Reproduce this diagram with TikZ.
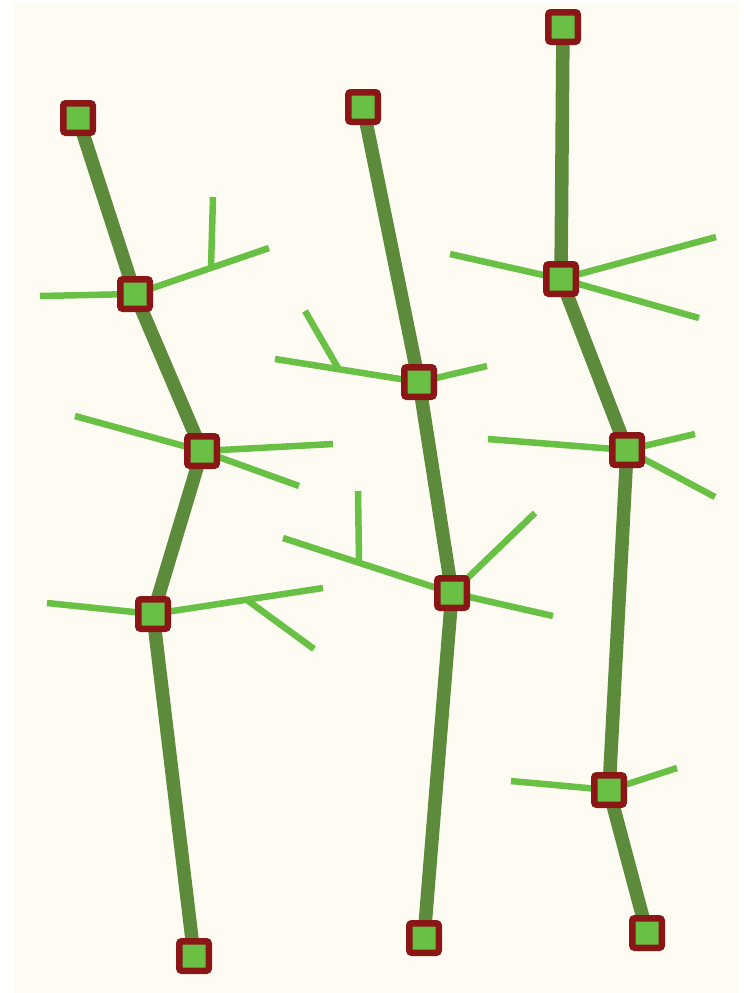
\documentclass[tikz,border=0pt]{standalone}
\definecolor{bgcream}{HTML}{FEFBF2}
\definecolor{nodered}{HTML}{8A1616}
\definecolor{nodegreen}{HTML}{6ABF45}
\definecolor{trunkgreen}{HTML}{5B8B3B}
\definecolor{twiggreen}{HTML}{68C045}
\tikzset{
  knot/.style={draw=nodered, fill=nodegreen, line width=6.5pt, minimum size=29.5pt, inner sep=0pt, rounded corners=2.5pt, shape=rectangle},
  trunk/.style={draw=trunkgreen, line width=13.5pt},
  twig/.style={draw=twiggreen, line width=6.5pt}
}
\begin{document}
\begin{tikzpicture}[x=1pt,y=-1pt]
\useasboundingbox (0,0) rectangle (744,993);
\fill[white] (0,0) rectangle (744,993);
\fill[bgcream] (13,3) rectangle (739,993);
% node positions
\coordinate (a1) at (78,118);
\coordinate (a2) at (135,294);
\coordinate (a3) at (202,451);
\coordinate (a4) at (153,614);
\coordinate (a5) at (194,956);
\coordinate (b1) at (363,107);
\coordinate (b2) at (419,382);
\coordinate (b3) at (452,593);
\coordinate (b4) at (424,938);
\coordinate (c1) at (563,27);
\coordinate (c2) at (561,279);
\coordinate (c3) at (627,450);
\coordinate (c4) at (609,790);
\coordinate (c5) at (647,933);
% twig end points
\coordinate (a2l) at (40,296);
\coordinate (a2r) at (269,248);
\coordinate (a2j) at (211,267);
\coordinate (a2u) at (213,197);
\coordinate (a3l) at (75,416);
\coordinate (a3r) at (333,444);
\coordinate (a3d) at (299,486);
\coordinate (a4l) at (47,603);
\coordinate (a4r) at (323,588);
\coordinate (a4j) at (247,600);
\coordinate (a4d) at (314,649);
\coordinate (b2l) at (275,359);
\coordinate (b2j) at (338,368);
\coordinate (b2u) at (305,311);
\coordinate (b2r) at (487,366);
\coordinate (b3l) at (283,538);
\coordinate (b3j) at (359,562);
\coordinate (b3u) at (358,491);
\coordinate (b3r) at (535,513);
\coordinate (b3d) at (553,616);
\coordinate (c2l) at (450,254);
\coordinate (c2r) at (716,237);
\coordinate (c2d) at (699,318);
\coordinate (c3l) at (488,439);
\coordinate (c3r) at (695,434);
\coordinate (c3d) at (715,497);
\coordinate (c4l) at (511,781);
\coordinate (c4r) at (677,768);
% trunks
\draw[trunk] (a1) -- (a2) -- (a3) -- (a4) -- (a5);
\draw[trunk] (b1) -- (b2) -- (b3) -- (b4);
\draw[trunk] (c1) -- (c2) -- (c3) -- (c4) -- (c5);
% twigs
\draw[twig] (a2) -- (a2l);
\draw[twig] (a2) -- (a2r);
\draw[twig] (a2j) -- (a2u);
\draw[twig] (a3) -- (a3l);
\draw[twig] (a3) -- (a3r);
\draw[twig] (a3) -- (a3d);
\draw[twig] (a4) -- (a4l);
\draw[twig] (a4) -- (a4r);
\draw[twig] (a4j) -- (a4d);
\draw[twig] (b2) -- (b2l);
\draw[twig] (b2j) -- (b2u);
\draw[twig] (b2) -- (b2r);
\draw[twig] (b3) -- (b3l);
\draw[twig] (b3j) -- (b3u);
\draw[twig] (b3) -- (b3r);
\draw[twig] (b3) -- (b3d);
\draw[twig] (c2) -- (c2l);
\draw[twig] (c2) -- (c2r);
\draw[twig] (c2) -- (c2d);
\draw[twig] (c3) -- (c3l);
\draw[twig] (c3) -- (c3r);
\draw[twig] (c3) -- (c3d);
\draw[twig] (c4) -- (c4l);
\draw[twig] (c4) -- (c4r);
% knots
\foreach \n in {a1,a2,a3,a4,a5,b1,b2,b3,b4,c1,c2,c3,c4,c5}
  \node[knot] (k\n) at (\n) {};
\end{tikzpicture}
\end{document}
